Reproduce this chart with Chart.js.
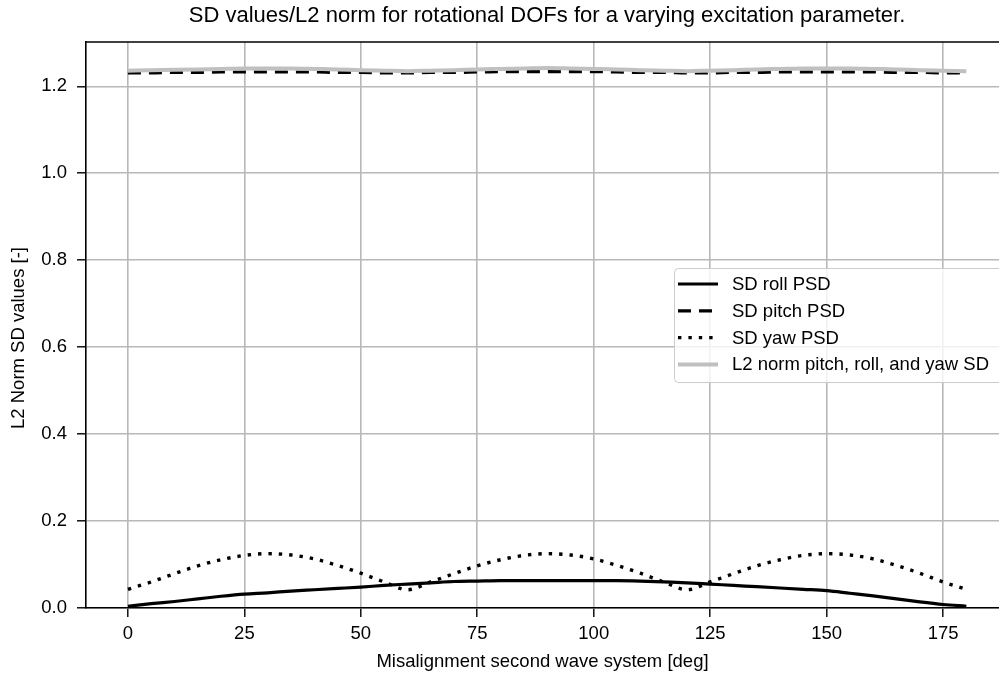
<!DOCTYPE html>
<html>
<head>
<meta charset="utf-8">
<script src="https://cdn.jsdelivr.net/npm/chart.js@4.4.1/dist/chart.umd.min.js"></script>
<style>
  html, body { margin: 0; padding: 0; background: #ffffff; }
  #wrap { width: 999px; height: 677px; overflow: hidden; }
</style>
</head>
<body>
<div id="wrap"><canvas id="sdChart" width="999" height="677"></canvas></div>
<script>
// misalignment angle [deg]
const angles = [0, 5, 10, 15, 20, 25, 30, 35, 40, 45, 50, 55, 60, 65, 70, 75, 80, 85, 90,
  95, 100, 105, 110, 115, 120, 125, 130, 135, 140, 145, 150, 155, 160, 165, 170, 175, 180];

const rollSD = [0.004, 0.010, 0.015, 0.021, 0.027, 0.032, 0.035, 0.039, 0.042, 0.045, 0.048,
  0.052, 0.055, 0.058, 0.061, 0.062, 0.063, 0.063, 0.063, 0.063, 0.063, 0.063, 0.062,
  0.060, 0.058, 0.055, 0.052, 0.049, 0.046, 0.043, 0.040, 0.034, 0.028, 0.021, 0.014, 0.008, 0.004];

const pitchSD = [1.231, 1.231, 1.232, 1.232, 1.233, 1.233, 1.233, 1.233, 1.233, 1.232, 1.232,
  1.231, 1.231, 1.232, 1.232, 1.233, 1.234, 1.234, 1.234, 1.234, 1.234, 1.233, 1.232,
  1.232, 1.231, 1.231, 1.232, 1.232, 1.233, 1.233, 1.233, 1.233, 1.233, 1.232, 1.232, 1.231, 1.231];

const yawSD = [0.043, 0.060, 0.079, 0.097, 0.111, 0.121, 0.125, 0.122, 0.113, 0.098, 0.080,
  0.060, 0.042, 0.060, 0.079, 0.097, 0.111, 0.121, 0.125, 0.122, 0.113, 0.098, 0.080,
  0.060, 0.042, 0.060, 0.079, 0.097, 0.111, 0.121, 0.125, 0.122, 0.113, 0.098, 0.080, 0.060, 0.043];

const l2Norm = [1.236, 1.237, 1.238, 1.239, 1.240, 1.241, 1.241, 1.241, 1.240, 1.239, 1.237,
  1.236, 1.235, 1.236, 1.237, 1.239, 1.240, 1.241, 1.242, 1.241, 1.240, 1.239, 1.237,
  1.236, 1.235, 1.236, 1.237, 1.239, 1.240, 1.241, 1.241, 1.241, 1.240, 1.239, 1.237, 1.236, 1.235];

const xTicks = [0, 25, 50, 75, 100, 125, 150, 175];
const yTicks = [0, 0.2, 0.4, 0.6, 0.8, 1.0, 1.2];

const seriesLabels = ["SD roll PSD", "SD pitch PSD", "SD yaw PSD", "L2 norm pitch, roll, and yaw SD"];

const FONT = "'Liberation Sans', Arial, sans-serif";

function toPoints(values) {
  return angles.map((a, i) => ({ x: a, y: values[i] }));
}

// title, y label, top spine and legend box drawn on the canvas
const decorations = {
  id: "decorations",
  afterDraw(chart) {
    const ctx = chart.ctx;
    const area = chart.chartArea;
    ctx.save();

    // top spine
    ctx.strokeStyle = "#000000";
    ctx.lineWidth = 1.6;
    ctx.beginPath();
    ctx.moveTo(area.left, area.top);
    ctx.lineTo(area.right + 10, area.top);
    ctx.stroke();

    // title
    ctx.fillStyle = "#000000";
    ctx.font = "22px " + FONT;
    ctx.textAlign = "center";
    ctx.textBaseline = "middle";
    ctx.fillText("SD values/L2 norm for rotational DOFs for a varying excitation parameter.", 547, 16);

    // y axis label
    ctx.save();
    ctx.translate(19, 338);
    ctx.rotate(-Math.PI / 2);
    ctx.font = "18.5px " + FONT;
    ctx.fillText("L2 Norm SD values [-]", 0, 0);
    ctx.restore();

    // legend
    const bx = 674, by = 268, bw = 330, bh = 114;
    ctx.fillStyle = "rgba(255,255,255,0.8)";
    ctx.strokeStyle = "#cccccc";
    ctx.lineWidth = 1;
    ctx.beginPath();
    ctx.roundRect(bx + 0.5, by + 0.5, bw, bh, 4);
    ctx.fill();
    ctx.stroke();

    const sets = chart.data.datasets;
    ctx.font = "18.5px " + FONT;
    ctx.textAlign = "left";
    ctx.textBaseline = "middle";
    sets.forEach((ds, i) => {
      const y = by + 16 + i * 26.8;
      ctx.strokeStyle = ds.borderColor;
      ctx.lineWidth = ds.borderWidth;
      ctx.setLineDash(ds.borderDash || []);
      ctx.beginPath();
      ctx.moveTo(678, y);
      ctx.lineTo(718, y);
      ctx.stroke();
      ctx.setLineDash([]);
      ctx.fillStyle = "#000000";
      ctx.fillText(ds.label, 732, y + 1);
    });
    ctx.restore();
  },
};

const ctx = document.getElementById("sdChart").getContext("2d");

new Chart(ctx, {
  type: "line",
  data: {
    datasets: [
      {
        label: seriesLabels[0],
        data: toPoints(rollSD),
        borderColor: "#000000",
        borderWidth: 3.2,
        order: 4,
      },
      {
        label: seriesLabels[1],
        data: toPoints(pitchSD),
        borderColor: "#000000",
        borderWidth: 3.2,
        borderDash: [13, 8],
        order: 3,
      },
      {
        label: seriesLabels[2],
        data: toPoints(yawSD),
        borderColor: "#000000",
        borderWidth: 3.4,
        borderDash: [3.4, 7],
        order: 2,
      },
      {
        label: seriesLabels[3],
        data: toPoints(l2Norm),
        borderColor: "#c0c0c0",
        borderWidth: 4,
        order: 1,
      },
    ],
  },
  options: {
    responsive: false,
    animation: false,
    devicePixelRatio: 1,
    layout: { padding: { top: 42, right: 0, left: 0, bottom: 0 } },
    elements: {
      point: { radius: 0 },
      line: { cubicInterpolationMode: "monotone", fill: false },
    },
    plugins: {
      legend: { display: false },
      title: { display: false },
      tooltip: { enabled: false },
    },
    scales: {
      x: {
        type: "linear",
        min: -9,
        max: 187,
        afterBuildTicks: (axis) => { axis.ticks = xTicks.map((v) => ({ value: v })); },
        afterFit: (axis) => { axis.height = 69; },
        grid: {
          color: "#b8b8b8",
          lineWidth: 1.6,
          tickColor: "#000000",
          tickLength: 9,
          tickWidth: 1.4,
        },
        border: { color: "#000000", width: 1.6 },
        ticks: {
          color: "#000000",
          font: { family: FONT, size: 18.5 },
          padding: 6,
          maxRotation: 0,
          callback: (v) => String(v),
        },
        title: {
          display: true,
          text: "Misalignment second wave system [deg]",
          color: "#000000",
          font: { family: FONT, size: 18.5 },
          padding: { top: 4, bottom: 4 },
        },
      },
      y: {
        type: "linear",
        min: 0,
        max: 1.302,
        afterBuildTicks: (axis) => { axis.ticks = yTicks.map((v) => ({ value: v })); },
        afterFit: (axis) => { axis.width = 86; },
        grid: {
          color: "#b8b8b8",
          lineWidth: 1.6,
          tickColor: "#000000",
          tickLength: 9,
          tickWidth: 1.4,
        },
        border: { color: "#000000", width: 1.6 },
        ticks: {
          color: "#000000",
          font: { family: FONT, size: 18.5 },
          padding: 10,
          callback: (v) => v.toFixed(1),
        },
      },
    },
  },
  plugins: [decorations],
});
</script>
</body>
</html>
